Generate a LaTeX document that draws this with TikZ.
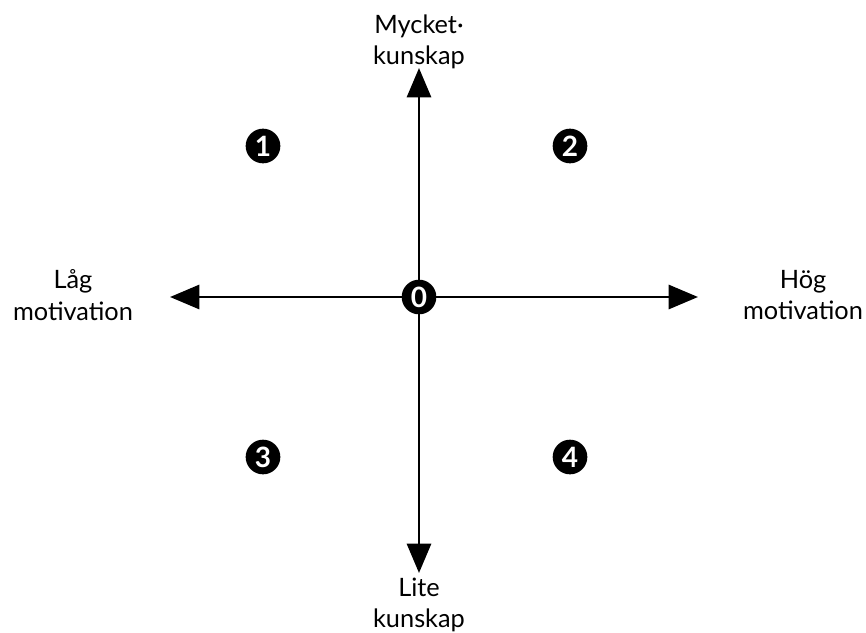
\documentclass[tikz,border=0pt]{standalone}
\usepackage{fontspec}
\setmainfont{Lato}
\usetikzlibrary{arrows.meta}

\tikzset{
	axis/.style={line width=2.2pt, -{Triangle[length=22pt,width=18pt]}},
	label/.style={align=center, font=\fontsize{19}{23.5}\selectfont},
	badge/.style={circle, fill=black, text=white, inner sep=0pt, minimum size=26pt,
		font=\fontsize{21}{21}\bfseries\selectfont}
}

\begin{document}
\begin{tikzpicture}[x=0.75pt, y=-0.75pt]
	\useasboundingbox (0,0) rectangle (866,632);
	% the middle and the four ends
	\coordinate (Up) at (419,68);
	\coordinate (Down) at (419,573);
	\coordinate (Left) at (170,297);
	\coordinate (Right) at (698,297);
	\coordinate (Mid) at (419,297);
	% draw the axes
	\draw[axis] (Mid) -- (Up);
	\draw[axis] (Mid) -- (Down);
	\draw[axis] (Mid) -- (Left);
	\draw[axis] (Mid) -- (Right);
	% the labels
	\node[label] (Mycket) at (419,42) {Mycket\textperiodcentered\\kunskap};
	\node[label] (Lite) at (419,605) {Lite\\kunskap};
	\node[label] (Lag) at (73,295) {Låg\\motivation};
	\node[label] (Hog) at (803,295) {Hög\\motivation};
	% the numbers
	\node[badge] (Zero) at (Mid) {0};
	\node[badge] (One) at (263,146) {1};
	\node[badge] (Two) at (570,146) {2};
	\node[badge] (Three) at (263,457) {3};
	\node[badge] (Four) at (570,457) {4};
\end{tikzpicture}
\end{document}
